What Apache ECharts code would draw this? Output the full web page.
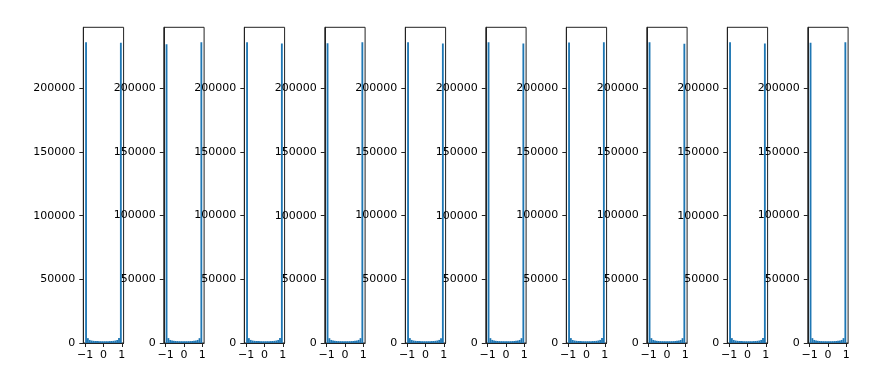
<!DOCTYPE html>
<html>
<head>
<meta charset="utf-8">
<script src="https://cdn.jsdelivr.net/npm/echarts@6/dist/echarts.min.js"></script>
<style>html,body{margin:0;padding:0;background:#fff;}#c{width:872px;height:382px;}</style>
</head>
<body>
<div id="c"></div>
<script>
const binEdges = [-1.0, -0.9, -0.8, -0.7, -0.6, -0.5, -0.4, -0.3, -0.2, -0.1, 0.0, 0.1, 0.2, 0.3, 0.4, 0.5, 0.6, 0.7, 0.8, 0.9, 1.0];
const xTicks = [-1, 0, 1];
const yTicks = [0, 50000, 100000, 150000, 200000];

const hist1 = [236200, 3800, 2400, 1950, 1700, 1580, 1500, 1450, 1420, 1400, 1400, 1410, 1440, 1500, 1570, 1700, 1940, 2380, 3850, 235900];
const hist2 = [234500, 3850, 2380, 1960, 1710, 1570, 1500, 1440, 1410, 1400, 1400, 1420, 1450, 1510, 1580, 1700, 1950, 2400, 3800, 236000];
const hist3 = [236000, 3820, 2410, 1940, 1690, 1590, 1510, 1460, 1410, 1400, 1400, 1410, 1440, 1490, 1580, 1700, 1960, 2390, 3830, 235000];
const hist4 = [235400, 3780, 2390, 1950, 1710, 1580, 1500, 1450, 1420, 1400, 1400, 1420, 1450, 1500, 1590, 1690, 1930, 2420, 3810, 236100];
const hist5 = [236000, 3830, 2400, 1930, 1700, 1570, 1510, 1440, 1410, 1400, 1400, 1400, 1440, 1510, 1570, 1710, 1950, 2400, 3820, 235000];
const hist6 = [236100, 3810, 2420, 1950, 1690, 1580, 1500, 1450, 1420, 1400, 1400, 1410, 1450, 1500, 1580, 1700, 1940, 2390, 3790, 235100];
const hist7 = [235800, 3840, 2390, 1940, 1710, 1590, 1510, 1440, 1410, 1400, 1400, 1410, 1440, 1510, 1580, 1690, 1960, 2410, 3830, 235900];
const hist8 = [236000, 3790, 2410, 1960, 1700, 1570, 1500, 1450, 1420, 1400, 1400, 1420, 1450, 1490, 1570, 1710, 1940, 2380, 3800, 234900];
const hist9 = [236100, 3820, 2400, 1940, 1700, 1580, 1520, 1450, 1410, 1400, 1400, 1410, 1440, 1500, 1590, 1700, 1950, 2400, 3840, 235200];
const hist10 = [235600, 3800, 2390, 1950, 1710, 1580, 1500, 1440, 1420, 1400, 1400, 1410, 1450, 1510, 1580, 1690, 1930, 2410, 3820, 236000];

const hists = [hist1, hist2, hist3, hist4, hist5, hist6, hist7, hist8, hist9, hist10];

const FONT = 'DejaVu Sans';
const fmtX = v => (v < 0 ? '\u2212' + Math.abs(v) : String(v));
const fmtY = v => String(Math.round(v));

const grids = [], xAxes = [], yAxes = [], series = [];
hists.forEach((h, i) => {
  const ymax = Math.max(...h) * 1.05;
  grids.push({
    left: 83.3 + i * 80.5, top: 27.3, width: 40.3, height: 315.7,
    show: true, borderColor: '#222', borderWidth: 1, backgroundColor: 'rgba(0,0,0,0)'
  });
  xAxes.push({
    gridIndex: i, type: 'value', min: -1.1, max: 1.1, z: 5,
    splitLine: { show: false },
    axisLine: { show: true, onZero: false, lineStyle: { color: '#222', width: 1 } },
    axisTick: { show: true, length: 4, customValues: xTicks, lineStyle: { color: '#222', width: 1 } },
    axisLabel: { customValues: xTicks, formatter: fmtX, color: '#000', fontSize: 11, fontFamily: FONT, margin: 7 }
  });
  yAxes.push({
    gridIndex: i, type: 'value', min: 0, max: ymax, z: 5,
    splitLine: { show: false },
    axisLine: { show: true, onZero: false, lineStyle: { color: '#222', width: 1 } },
    axisTick: { show: true, length: 4, customValues: yTicks, lineStyle: { color: '#222', width: 1 } },
    axisLabel: { customValues: yTicks, formatter: fmtY, color: '#000', fontSize: 11, fontFamily: FONT, margin: 8 }
  });
  series.push({
    type: 'custom', xAxisIndex: i, yAxisIndex: i,
    encode: { x: [0, 1], y: 2 },
    data: h.map((c, k) => [binEdges[k], binEdges[k + 1], c]),
    renderItem: (params, api) => {
      const p0 = api.coord([api.value(0), 0]);
      const p1 = api.coord([api.value(1), api.value(2)]);
      return {
        type: 'rect',
        shape: { x: p0[0], y: p1[1], width: p1[0] - p0[0], height: p0[1] - p1[1] },
        style: { fill: '#1f77b4' }
      };
    }
  });
});

const chart = echarts.init(document.getElementById('c'), null, { renderer: 'canvas' });
chart.setOption({
  animation: false,
  backgroundColor: '#fff',
  grid: grids, xAxis: xAxes, yAxis: yAxes, series: series
});
</script>
</body>
</html>
